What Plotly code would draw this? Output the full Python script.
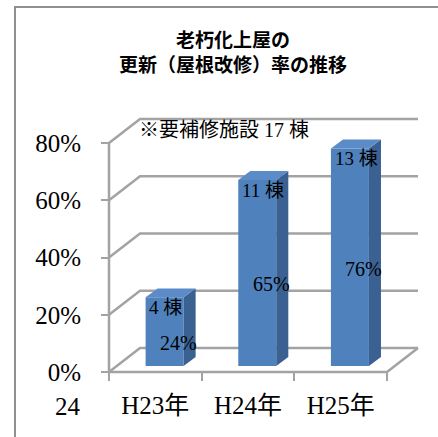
import plotly.graph_objects as go

# ---- data ----
categories = ["H23年", "H24年", "H25年"]
rates = [24, 65, 76]              # 更新率 (%)
counts = ["4 棟", "11 棟", "13 棟"]
y_ticks = [0, 20, 40, 60, 80]
y_tick_labels = ["0%", "20%", "40%", "60%", "80%"]
note_text = "※要補修施設 17 棟"
stray_label = "24"
title_text = "<b>老朽化上屋の<br>更新（屋根改修）率の推移</b>"

# ---- style / geometry (3-D look) ----
SERIF = "'Liberation Serif', 'Times New Roman', 'Noto Sans CJK JP', serif"
SANS = "'Noto Sans CJK JP', sans-serif"
GRID = "#a3a3a3"
FRONT = "#4f81bd"
SIDE = "#3a6192"
TOP = "#5b8cc8"
X_RANGE = [0.446, 3.867]
Y_RANGE = [-1.747, 90.83]
DX, DY = 0.3345, 8.4          # wall depth (axis units)
BDX, BDY = 0.13, 3.1          # bar depth
BASE = 2.1                    # bar base above floor front
BAR_W = 0.41
SHIFT = 0.10

xpos = list(range(1, len(categories) + 1))
x_left, x_right = 0.5, len(categories) + 0.5

fig = go.Figure()

# front faces of bars
fig.add_trace(go.Bar(
    x=xpos, y=rates, base=BASE, width=BAR_W, offset=SHIFT - BAR_W / 2,
    marker=dict(color=FRONT, line=dict(width=0)), hoverinfo="skip",
))

# side and top faces
for xc, v in zip(xpos, rates):
    xl = xc + SHIFT - BAR_W / 2
    xr = xc + SHIFT + BAR_W / 2
    top = BASE + v
    fig.add_trace(go.Scatter(
        x=[xr, xr + BDX, xr + BDX, xr, xr],
        y=[BASE, BASE + BDY, top + BDY, top, BASE],
        fill="toself", fillcolor=SIDE, mode="lines", line=dict(width=0),
        hoverinfo="skip"))
    fig.add_trace(go.Scatter(
        x=[xl, xl + BDX, xr + BDX, xr, xl],
        y=[top, top + BDY, top + BDY, top, top],
        fill="toself", fillcolor=TOP, mode="lines", line=dict(width=0),
        hoverinfo="skip"))

shapes = []
# walls gridlines
for v in y_ticks:
    shapes.append(dict(
        type="path", xref="x", yref="y", layer="below",
        path=f"M {x_left},{v} L {x_left + DX},{v + DY} L {x_right + DX},{v + DY}",
        line=dict(color=GRID, width=2.5)))
# floor front and right edges
shapes.append(dict(type="path", xref="x", yref="y", layer="below",
                   path=f"M {x_left},0 L {x_right},0 L {x_right + DX},{DY}",
                   line=dict(color=GRID, width=2.5)))
# y axis line
shapes.append(dict(type="line", xref="x", yref="y", layer="below",
                   x0=x_left, x1=x_left, y0=0, y1=y_ticks[-1],
                   line=dict(color=GRID, width=2.5)))
# outer frame
shapes.append(dict(type="path", xref="paper", yref="paper",
                   path="M -0.2808,-0.5 L -0.2808,1.396 L 1.2,1.396",
                   line=dict(color="#8f8f8f", width=2)))

annotations = []
for xc, v, c in zip(xpos, rates, counts):
    annotations.append(dict(
        x=xc + SHIFT - BAR_W / 2 + 0.02, y=BASE + v - 3.6, xref="x", yref="y",
        text=c, showarrow=False, xanchor="left", yanchor="middle",
        font=dict(family=SERIF, size=19, color="#000")))
    annotations.append(dict(
        x=xc + 0.25, y=BASE + v / 2 - 4, xref="x", yref="y",
        text=f"{v}%", showarrow=False, xanchor="center", yanchor="middle",
        font=dict(family=SERIF, size=20, color="#000")))
annotations.append(dict(
    x=0.80, y=84.5, xref="x", yref="y", text=note_text, showarrow=False,
    xanchor="left", yanchor="middle",
    font=dict(family=SERIF, size=20, color="#000")))
annotations.append(dict(
    x=-0.066, y=-0.113, xref="paper", yref="paper", text=stray_label,
    showarrow=False, xanchor="right", yanchor="middle",
    font=dict(family=SERIF, size=25, color="#000")))

fig.update_layout(
    width=438, height=437,
    margin=dict(l=104, r=17, t=112, b=60),
    paper_bgcolor="white", plot_bgcolor="white",
    showlegend=False,
    title=dict(text=title_text, x=233 / 438, xanchor="center", xref="container",
               y=1 - 47 / 437, yanchor="middle",
               font=dict(family=SANS, size=19, color="#000")),
    shapes=shapes, annotations=annotations,
    xaxis=dict(range=X_RANGE, tickvals=xpos, ticktext=categories, ticks="",
               showgrid=False, zeroline=False, showline=False,
               anchor="free", position=5 / 265, ticklabelstandoff=16,
               tickfont=dict(family=SERIF, size=25, color="#000")),
    xaxis2=dict(range=X_RANGE, overlaying="x", anchor="free", position=5 / 265,
                side="bottom",
                tickvals=[i + 0.5 for i in range(len(categories) + 1)],
                ticks="outside", ticklen=8, tickwidth=2, tickcolor=GRID,
                showticklabels=False, showgrid=False, zeroline=False, showline=False),
    yaxis=dict(range=Y_RANGE, tickvals=y_ticks, ticktext=y_tick_labels,
               ticks="outside", ticklen=8, tickwidth=2, tickcolor=GRID,
               anchor="free", position=5 / 317, ticklabelstandoff=15,
               showgrid=False, zeroline=False, showline=False,
               tickfont=dict(family=SERIF, size=25, color="#000")),
)
# dummy trace so xaxis2 renders
fig.add_trace(go.Scatter(x=[None], y=[None], xaxis="x2", yaxis="y", showlegend=False))

fig.write_html("out.html")
